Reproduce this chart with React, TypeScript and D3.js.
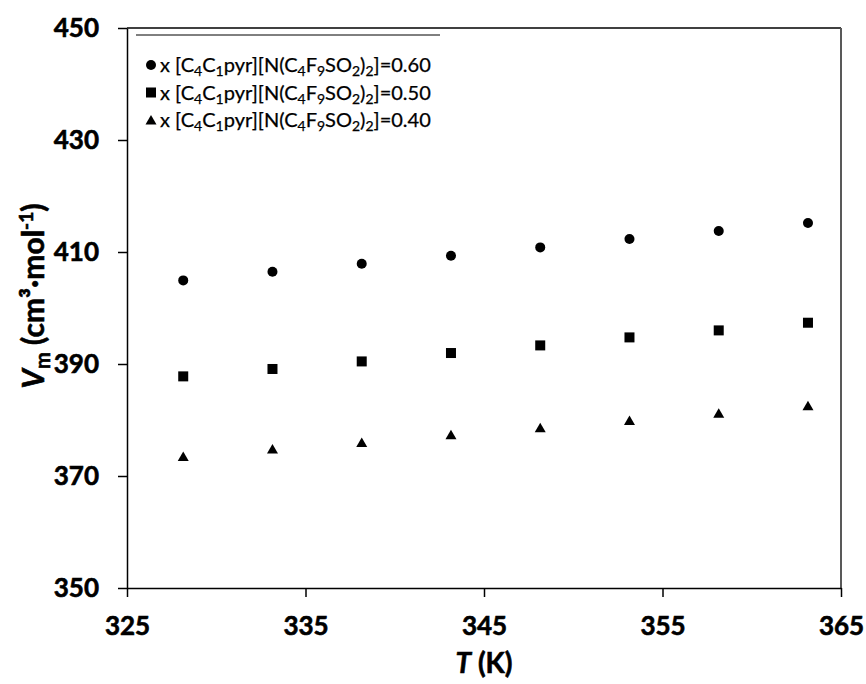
import React, { useEffect, useRef } from "react";
import * as d3 from "d3";

// temperatures (K)
const temps = [328.15, 333.15, 338.15, 343.15, 348.15, 353.15, 358.15, 363.15];
// molar volumes (cm3/mol) for each mole fraction
const vm060 = [404.93, 406.48, 407.91, 409.34, 410.82, 412.32, 413.75, 415.18];
const vm050 = [387.79, 389.11, 390.46, 391.96, 393.32, 394.75, 396.0, 397.37];
const vm040 = [373.5, 374.82, 376.0, 377.37, 378.63, 379.9, 381.2, 382.55];
const fractions = ["0.60", "0.50", "0.40"];
const xTicks = [325, 335, 345, 355, 365];
const yTicks = [350, 370, 390, 410, 430, 450];

const W = 866;
const H = 684;
const margin = { top: 28, right: 25, bottom: 96, left: 127 };

export default function App() {
  const ref = useRef<SVGSVGElement>(null);

  useEffect(() => {
    const svg = d3.select(ref.current);
    svg.selectAll("*").remove();

    const x = d3.scaleLinear().domain([325, 365]).range([margin.left, W - margin.right]);
    const y = d3.scaleLinear().domain([350, 450]).range([H - margin.bottom, margin.top]);

    const labelFont = "Lato, 'Open Sans', sans-serif";

    // frame: top black, right grey
    svg.append("line")
      .attr("x1", x(325)).attr("x2", x(365))
      .attr("y1", y(450)).attr("y2", y(450))
      .attr("stroke", "#000").attr("stroke-width", 1.5);
    svg.append("line")
      .attr("x1", x(365)).attr("x2", x(365))
      .attr("y1", y(450)).attr("y2", y(350))
      .attr("stroke", "#595959").attr("stroke-width", 2);

    // bold labels get a thin stroke to match the heavier original
    const heavy = (sel: any, size: number) =>
      sel.attr("font-family", labelFont).attr("font-weight", "bold")
        .attr("font-size", size).attr("fill", "#000")
        .attr("stroke", "#000").attr("stroke-width", 0.6);

    // x axis
    const gx = svg.append("g")
      .attr("transform", "translate(0," + y(350) + ")")
      .call(d3.axisBottom(x).tickValues(xTicks).tickSize(9).tickSizeOuter(0).tickPadding(20));
    gx.select(".domain").attr("stroke", "#000").attr("stroke-width", 1.5);
    gx.selectAll(".tick line").attr("stroke", "#000").attr("stroke-width", 1.5);
    heavy(gx.selectAll(".tick text"), 26);

    // y axis
    const gy = svg.append("g")
      .attr("transform", "translate(" + x(325) + ",0)")
      .call(d3.axisLeft(y).tickValues(yTicks).tickSize(9).tickSizeOuter(0).tickPadding(19));
    gy.select(".domain").attr("stroke", "#000").attr("stroke-width", 1.5);
    gy.selectAll(".tick line").attr("stroke", "#000").attr("stroke-width", 1.5);
    heavy(gy.selectAll(".tick text"), 26);

    // axis titles
    const xt = heavy(svg.append("text"), 28)
      .attr("x", (x(325) + x(365)) / 2).attr("y", 673)
      .attr("text-anchor", "middle");
    xt.append("tspan").attr("font-style", "italic").text("T");
    xt.append("tspan").text(" (K)");

    const yt = heavy(svg.append("text"), 30)
      .attr("transform", "translate(44," + (y(400) - 12) + ") rotate(-90)")
      .attr("text-anchor", "middle");
    yt.append("tspan").attr("font-style", "italic").text("V");
    yt.append("tspan").attr("font-size", 20).attr("dy", 6).text("m");
    yt.append("tspan").attr("dy", -6).text(" (cm³·mol");
    yt.append("tspan").attr("font-size", 19).attr("dy", -11).text("-1");
    yt.append("tspan").attr("dy", 11).text(")");

    // markers
    const triangle = "M0,-5L5.5,4.5L-5.5,4.5Z";
    const series = [
      { values: vm060, shape: "circle" },
      { values: vm050, shape: "square" },
      { values: vm040, shape: "triangle" },
    ];

    const drawMarker = (g: any, shape: string, cx: number, cy: number) => {
      if (shape === "circle") {
        g.append("circle").attr("cx", cx).attr("cy", cy).attr("r", 5).attr("fill", "#000");
      } else if (shape === "square") {
        g.append("rect").attr("x", cx - 5).attr("y", cy - 5)
          .attr("width", 10).attr("height", 10).attr("fill", "#000");
      } else {
        g.append("path").attr("d", triangle)
          .attr("transform", "translate(" + cx + "," + cy + ")").attr("fill", "#000");
      }
    };

    const pts = svg.append("g");
    series.forEach((s) => {
      s.values.forEach((v, i) => drawMarker(pts, s.shape, x(temps[i]), y(v)));
    });

    // legend
    const lg = svg.append("g");
    lg.append("line")
      .attr("x1", 136).attr("x2", 440).attr("y1", 35).attr("y2", 35)
      .attr("stroke", "#000").attr("stroke-width", 1);
    fractions.forEach((f, i) => {
      const cy = 65 + i * 27.5;
      drawMarker(lg, series[i].shape, 151, cy);
      const t = lg.append("text")
        .attr("x", 160).attr("y", cy + 7)
        .attr("font-family", labelFont).attr("font-size", 20).attr("fill", "#000")
        .attr("stroke", "#000").attr("stroke-width", 0.25);
      const parts: [string, boolean][] = [
        ["x [C", false], ["4", true], ["C", false], ["1", true], ["pyr][N(C", false],
        ["4", true], ["F", false], ["9", true], ["SO", false], ["2", true], [")", false],
        ["2", true], ["]=" + f, false],
      ];
      let sub = false;
      parts.forEach(([txt, isSub]) => {
        const dy = isSub && !sub ? 4 : !isSub && sub ? -4 : 0;
        t.append("tspan").attr("font-size", isSub ? 14 : 20).attr("dy", dy).text(txt);
        sub = isSub;
      });
    });
  }, []);

  return (
    <svg
      ref={ref}
      width={W}
      height={H}
      style={{ position: "absolute", left: 0, top: 0, background: "#fff" }}
    />
  );
}
